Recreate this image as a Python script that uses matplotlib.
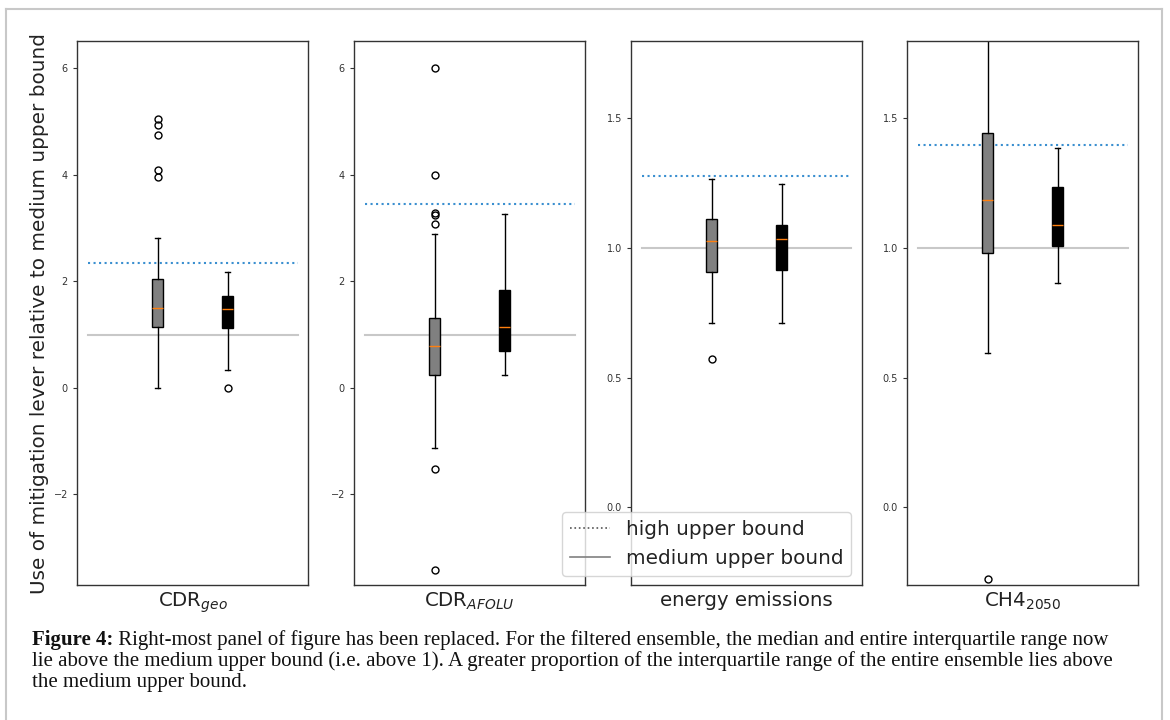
import numpy as np
import matplotlib.pyplot as plt
from matplotlib.lines import Line2D

# summary stats: [q1, median, q3, whisker low, whisker high]
panels = ["CDR$_{geo}$", "CDR$_{AFOLU}$", "energy emissions", "CH4$_{2050}$"]

all_stats = [
    [1.14, 1.50, 2.04, 0.00, 2.82],
    [0.24, 0.78, 1.31, -1.13, 2.88],
    [0.907, 1.027, 1.111, 0.712, 1.268],
    [0.981, 1.187, 1.442, 0.595, 1.95],
]
all_fliers = [
    [5.04, 4.93, 4.75, 4.10, 3.96],
    [6.0, 4.0, 3.28, 3.24, 3.07, -1.53, -3.42],
    [0.571],
    [-0.275],
]
filt_stats = [
    [1.12, 1.48, 1.73, 0.33, 2.18],
    [0.70, 1.14, 1.84, 0.24, 3.27],
    [0.917, 1.035, 1.087, 0.712, 1.245],
    [1.007, 1.088, 1.234, 0.864, 1.386],
]
filt_fliers = [[0.0], [], [], []]

high_bound = [2.34, 3.45, 1.276, 1.397]
medium_bound = 1.0

ylims = [(-3.70, 6.52), (-3.70, 6.52), (-0.30, 1.80), (-0.30, 1.80)]
yticks = [[-2, 0, 2, 4, 6], [-2, 0, 2, 4, 6], [0.0, 0.5, 1.0, 1.5], [0.0, 0.5, 1.0, 1.5]]

caption_bold = "Figure 4:"
caption_lines = [
    " Right-most panel of figure has been replaced. For the filtered ensemble, the median and entire interquartile range now",
    "lie above the medium upper bound (i.e. above 1). A greater proportion of the interquartile range of the entire ensemble lies above",
    "the medium upper bound.",
]


def make_stats(s, fl):
    return dict(q1=s[0], med=s[1], q3=s[2], whislo=s[3], whishi=s[4], fliers=fl)


W, H = 1170, 720
fig = plt.figure(figsize=(11.7, 7.2), dpi=100)

lefts = [77, 354, 631, 907]
for i in range(4):
    ax = fig.add_axes([lefts[i] / W, 1 - 585 / H, 231 / W, (585 - 40.6) / H])
    ax.plot([0, 3], [medium_bound, medium_bound], color="#c8c8c8", lw=1.5)
    ax.plot([0, 3], [high_bound[i], high_bound[i]], ":", color="#3a8fd0", lw=1.5)

    common = dict(widths=0.15, patch_artist=True, showfliers=True,
                  whiskerprops=dict(color="black", lw=1),
                  capprops=dict(color="black", lw=1),
                  medianprops=dict(color="#ff7f0e", lw=1),
                  flierprops=dict(marker="o", markerfacecolor="none",
                                  markeredgecolor="black", markersize=5))
    ax.bxp([make_stats(all_stats[i], all_fliers[i])], positions=[1],
           boxprops=dict(facecolor="gray", edgecolor="black", lw=1), **common)
    ax.bxp([make_stats(filt_stats[i], filt_fliers[i])], positions=[2],
           boxprops=dict(facecolor="black", edgecolor="black", lw=1), **common)

    ax.set_xlim(-0.15, 3.15)
    ax.set_ylim(*ylims[i])
    ax.set_yticks(yticks[i])
    ax.set_xticks([])
    ax.set_xlabel(panels[i], fontsize=14.2, color="#222222")
    ax.tick_params(axis="y", labelsize=7, length=3, width=0.8,
                   colors="#333333")
    for sp in ax.spines.values():
        sp.set_color("#333333")
        sp.set_linewidth(1)

fig.text(40 / W, 1 - 313 / H, "Use of mitigation lever relative to medium upper bound",
         rotation=90, ha="center", va="center", fontsize=14.4, color="#222222")

handles = [Line2D([], [], ls=":", color="#555555", lw=1.2),
           Line2D([], [], color="gray", lw=1.2)]
fig.legend(handles, ["high upper bound", "medium upper bound"],
           loc="upper left", bbox_to_anchor=(561.7 / W, 1 - 511.7 / H),
           borderaxespad=0, fontsize=14.4, labelcolor="#222222")

# caption
cap_font = dict(family="Liberation Serif", fontsize=15, color="#111111")
t0 = fig.text(32 / W, 1 - 645 / H, caption_bold, fontweight="bold",
              va="baseline", **cap_font)
fig.canvas.draw()
bb = t0.get_window_extent()
fig.text(bb.x1 / W, 1 - 645 / H, caption_lines[0], va="baseline", **cap_font)
fig.text(32 / W, 1 - 666 / H, caption_lines[1], va="baseline", **cap_font)
fig.text(32 / W, 1 - 687 / H, caption_lines[2], va="baseline", **cap_font)

# outer frame of the figure box
frame = dict(transform=fig.transFigure, color="#c8c8c8", lw=1.5)
fig.add_artist(Line2D([5.5 / W, 5.5 / W], [0, 1 - 9 / H], **frame))
fig.add_artist(Line2D([5.5 / W, 1161.5 / W], [1 - 9 / H, 1 - 9 / H], **frame))
fig.add_artist(Line2D([1161.5 / W, 1161.5 / W], [0, 1 - 9 / H], **frame))

fig.savefig("out.png", dpi=100)
